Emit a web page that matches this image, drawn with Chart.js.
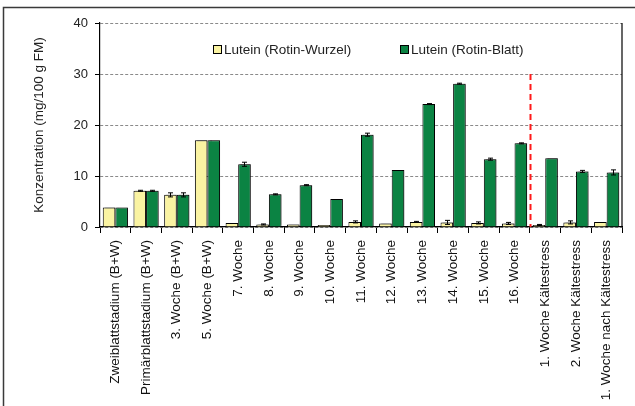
<!DOCTYPE html>
<html>
<head>
<meta charset="utf-8">
<script src="https://cdn.jsdelivr.net/npm/chart.js@4"></script>
<style>
  html, body { margin: 0; padding: 0; background: #fff; }
  #wrap { position: relative; width: 635px; height: 406px; }
</style>
</head>
<body>
<div id="wrap"><canvas id="c" width="635" height="406"></canvas></div>
<script>
const categories = [
  'Zweiblattstadium (B+W)', 'Primärblattstadium (B+W)', '3. Woche (B+W)', '5. Woche (B+W)',
  '7. Woche', '8. Woche', '9. Woche', '10. Woche', '11. Woche', '12. Woche', '13. Woche',
  '14. Woche', '15. Woche', '16. Woche', '1. Woche Kältestress', '2. Woche Kältestress',
  '1. Woche nach Kältestress'
];
const wurzel =    [3.8, 7.1, 6.3, 17.0, 0.8, 0.5, 0.5, 0.4, 1.0, 0.7, 1.0, 0.9, 0.8, 0.7, 0.4, 0.9, 1.0];
const wurzelErr = [0.0, 0.1, 0.4, 0.0, 0.0, 0.1, 0.0, 0.0, 0.2, 0.0, 0.1, 0.4, 0.2, 0.2, 0.1, 0.3, 0.0];
const blatt =     [3.8, 7.1, 6.3, 17.0, 12.3, 6.4, 8.2, 5.5, 18.1, 11.2, 24.1, 28.1, 13.3, 16.4, 13.5, 10.9, 10.7];
const blattErr =  [0.0, 0.1, 0.4, 0.0, 0.4, 0.1, 0.1, 0.0, 0.3, 0.0, 0.1, 0.1, 0.2, 0.1, 0.0, 0.2, 0.5];
const yTicks = [0, 10, 20, 30, 40];
const seriesNames = ['Lutein (Rotin-Wurzel)', 'Lutein (Rotin-Blatt)'];
const FONT = '"Liberation Sans", Arial, sans-serif';

// frame lines around the figure (top and left edges) and the right plot border
const framePlugin = {
  id: 'frame',
  beforeDraw(chart) {
    const ctx = chart.ctx;
    ctx.save();
    ctx.strokeStyle = '#3a3a3a';
    ctx.lineWidth = 1.5;
    ctx.beginPath();
    ctx.moveTo(3.5, 406);
    ctx.lineTo(3.5, 7.5);
    ctx.lineTo(635, 7.5);
    ctx.stroke();
    ctx.restore();
  },
  afterDraw(chart) {
    const ctx = chart.ctx, a = chart.chartArea;
    ctx.save();
    ctx.strokeStyle = '#000';
    ctx.lineWidth = 1.2;
    ctx.beginPath();
    ctx.moveTo(a.right, a.top);
    ctx.lineTo(a.right, a.bottom);
    ctx.stroke();
    ctx.restore();
  }
};

// soft grey shadow on the right of each bar
const shadowPlugin = {
  id: 'barShadow',
  beforeDatasetDraw(chart) {
    const ctx = chart.ctx;
    ctx.save();
    ctx.shadowColor = 'rgba(0,0,0,0.35)';
    ctx.shadowOffsetX = 2;
    ctx.shadowOffsetY = -1;
    ctx.shadowBlur = 1;
  },
  afterDatasetDraw(chart) {
    chart.ctx.restore();
  }
};

// standard deviation whiskers
const errorPlugin = {
  id: 'errorBars',
  afterDatasetsDraw(chart) {
    const ctx = chart.ctx, y = chart.scales.y;
    const errs = [wurzelErr, blattErr];
    ctx.save();
    ctx.strokeStyle = '#000';
    ctx.lineWidth = 1;
    chart.data.datasets.forEach((ds, di) => {
      const meta = chart.getDatasetMeta(di);
      meta.data.forEach((bar, i) => {
        const e = errs[di][i];
        if (!e) return;
        const v = ds.data[i];
        const x = Math.round(bar.x) + 0.5;
        const y1 = y.getPixelForValue(v + e), y2 = y.getPixelForValue(Math.max(0, v - e));
        ctx.beginPath();
        ctx.moveTo(x, y1); ctx.lineTo(x, y2);
        ctx.moveTo(x - 2.5, y1); ctx.lineTo(x + 2.5, y1);
        ctx.moveTo(x - 2.5, y2); ctx.lineTo(x + 2.5, y2);
        ctx.stroke();
      });
    });
    ctx.restore();
  }
};

// red dashed separator before the cold-stress phase, and the in-plot legend
const annotPlugin = {
  id: 'annot',
  afterDatasetsDraw(chart) {
    const ctx = chart.ctx, xs = chart.scales.x, ys = chart.scales.y;
    const xSep = Math.round(xs.getPixelForValue(13.5)) + 0.5;
    ctx.save();
    ctx.strokeStyle = '#ff1a1a';
    ctx.lineWidth = 2;
    ctx.setLineDash([6, 4]);
    ctx.beginPath();
    ctx.moveTo(xSep, ys.getPixelForValue(30));
    ctx.lineTo(xSep, ys.getPixelForValue(0));
    ctx.stroke();
    ctx.restore();

    const items = [
      { x: 213, ds: chart.data.datasets[0] },
      { x: 400, ds: chart.data.datasets[1] }
    ];
    ctx.save();
    ctx.font = '13.5px ' + FONT;
    ctx.textBaseline = 'middle';
    items.forEach(it => {
      const by = 45;
      ctx.fillStyle = it.ds.backgroundColor;
      ctx.fillRect(it.x + 0.5, by + 0.5, 8, 8);
      ctx.strokeStyle = '#000';
      ctx.lineWidth = 1;
      ctx.strokeRect(it.x + 0.5, by + 0.5, 8, 8);
      ctx.fillStyle = '#222';
      ctx.fillText(it.ds.label, it.x + 11, by + 5);
    });
    ctx.restore();
  }
};

new Chart(document.getElementById('c'), {
  type: 'bar',
  data: {
    labels: categories,
    datasets: [
      { label: seriesNames[0], data: wurzel, backgroundColor: '#faf3a2', borderColor: '#000', borderWidth: 1,
        categoryPercentage: 0.82, barPercentage: 1.0 },
      { label: seriesNames[1], data: blatt, backgroundColor: '#0b8343', borderColor: '#000', borderWidth: 1,
        categoryPercentage: 0.82, barPercentage: 1.0 }
    ]
  },
  options: {
    responsive: false,
    animation: false,
    devicePixelRatio: 1,
    layout: { padding: { top: 23, right: 13, left: 0, bottom: 0 } },
    plugins: { legend: { display: false }, tooltip: { enabled: false } },
    scales: {
      x: {
        offset: true,
        afterFit(scale) { scale.height = 179; },
        grid: { display: true, drawOnChartArea: false, offset: true, tickLength: 6, color: '#000', tickColor: '#000' },
        border: { display: true, color: '#000', width: 1.2 },
        ticks: { minRotation: 90, maxRotation: 90, autoSkip: false, color: '#111', padding: 7,
                 font: { family: FONT, size: 13.5 } }
      },
      y: {
        min: 0, max: 40,
        afterFit(scale) { scale.width = 100; },
        afterBuildTicks(scale) { scale.ticks = yTicks.map(v => ({ value: v })); },
        grid: { color: '#8a8a8a', tickColor: '#000', tickLength: 5, lineWidth: 1, drawTicks: true,
                tickBorderDash: [] },
        border: { display: true, color: '#000', width: 1.2, dash: [3, 2] },
        ticks: { color: '#222', padding: 7, font: { family: FONT, size: 13 } },
        title: { display: true, text: 'Konzentration (mg/100 g FM)', color: '#222', padding: { top: 31, bottom: 0 },
                 font: { family: FONT, size: 13.5 } }
      }
    }
  },
  plugins: [framePlugin, shadowPlugin, errorPlugin, annotPlugin]
});
</script>
</body>
</html>
